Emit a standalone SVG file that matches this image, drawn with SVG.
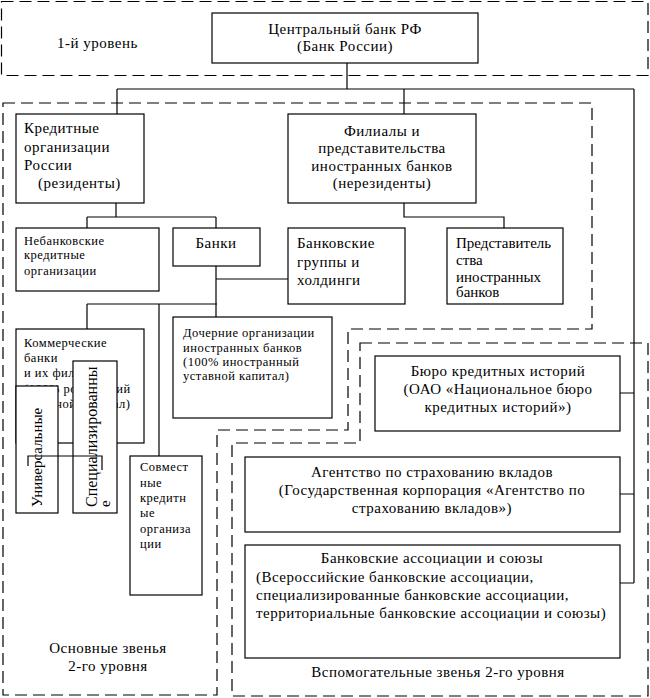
<svg xmlns="http://www.w3.org/2000/svg" width="650" height="698" viewBox="0 0 650 698" font-family="'Liberation Serif', 'DejaVu Serif', serif">
<style>
.bg{fill:#fff}
.zone{fill:none;stroke:#000;stroke-width:1.2;stroke-dasharray:12,6}
.box{fill:#fff;stroke:#000;stroke-width:1.2}
.ln{fill:none;stroke:#000;stroke-width:1.2}
text{font-family:'Liberation Serif','DejaVu Serif',serif;fill:#000}
.t{font-size:15px;letter-spacing:0.5px}
.s{font-size:12.5px;letter-spacing:0.5px}
.c{text-anchor:middle}
</style>
<rect class="bg" x="0" y="0" width="650" height="698"/>
<g id="zones">
<rect class="zone" x="1.5" y="1.5" width="646.5" height="74"/>
<path class="zone" d="M3,103 H592 V329 H348 V430 H217 V695 H3 Z"/>
<path class="zone" d="M360,343 H648 V696 H232 V443 H360 Z"/>
<text class="t" x="57" y="48">1-й уровень</text>
<text class="t c" x="108" y="653">Основные звенья</text>
<text class="t c" x="108" y="671">2-го уровня</text>
<text class="t c" x="438" y="677">Вспомогательные звенья 2-го уровня</text>
</g>
<g id="connectors">
<path class="ln" d="M347,63 V89 M117,89 H634 M117,89 V114 M404,89 V114 M634,89 V583"/>
<path class="ln" d="M116,203 V217 M87,217 H216 M87,217 V228 M216,217 V228"/>
<path class="ln" d="M216,266 V317 M216,279 H288 M87,304 H217 M87,304 V329 M159,304 V456"/>
<path class="ln" d="M404,203 V217 H504 V228"/>
<path class="ln" d="M620,393 H634 M620,494 H634 M620,583 H634"/>
</g>
<g id="cb">
<rect class="box" x="212" y="13" width="266" height="50"/>
<text class="t c" x="345" y="34">Центральный банк РФ</text>
<text class="t c" x="345" y="51">(Банк России)</text>
</g>
<g id="kredit">
<rect class="box" x="16" y="114" width="128" height="89"/>
<text class="t" x="24" y="133">Кредитные</text>
<text class="t" x="24" y="152">организации</text>
<text class="t" x="24" y="170">России</text>
<text class="t" x="38" y="188">(резиденты)</text>
</g>
<g id="filialy">
<rect class="box" x="288" y="114" width="188" height="89"/>
<text class="t c" x="382" y="136">Филиалы и</text>
<text class="t c" x="382" y="153">представительства</text>
<text class="t c" x="382" y="171">иностранных банков</text>
<text class="t c" x="382" y="188">(нерезиденты)</text>
</g>
<g id="nebank">
<rect class="box" x="16" y="228" width="143" height="63"/>
<text class="s" x="24" y="245">Небанковские</text>
<text class="s" x="24" y="259">кредитные</text>
<text class="s" x="24" y="275">организации</text>
</g>
<g id="banki">
<rect class="box" x="173" y="228" width="87" height="38"/>
<text class="t c" x="216" y="248">Банки</text>
</g>
<g id="gruppy">
<rect class="box" x="288" y="228" width="117" height="76"/>
<text class="t" x="297" y="248">Банковские</text>
<text class="t" x="297" y="267">группы и</text>
<text class="t" x="297" y="285">холдинги</text>
</g>
<g id="predst">
<rect class="box" x="447" y="228" width="116" height="76"/>
<text class="t" x="456" y="248" style="letter-spacing:0">Представитель</text>
<text class="t" x="456" y="265" style="letter-spacing:0">ства</text>
<text class="t" x="456" y="282" style="letter-spacing:0">иностранных</text>
<text class="t" x="456" y="297" style="letter-spacing:0">банков</text>
</g>
<g id="kommerch">
<rect class="box" x="16" y="329" width="128" height="114"/>
<text class="s" x="24" y="347">Коммерческие</text>
<text class="s" x="24" y="362">банки</text>
<text class="s" x="24" y="377">и их филиалы</text>
<text class="s" x="24" y="393">(100% российский</text>
<text class="s" x="24" y="408">уставной капитал)</text>
</g>
<g id="univ">
<rect class="box" x="16" y="386" width="42" height="127"/>
<text style="font-size:15px" transform="translate(42,507) rotate(-90)">Универсальные</text>
</g>
<g id="spec">
<rect class="box" x="73" y="361" width="44" height="152"/>
<text style="font-size:16px" transform="translate(97,507) rotate(-90)">Специализированны</text>
<text style="font-size:15px" transform="translate(110,507) rotate(-90)">е</text>
</g>
<g id="bracket">
<path class="ln" d="M28,466 V456 H102 V470"/>
</g>
<g id="dochernie">
<rect class="box" x="173" y="317" width="159" height="101"/>
<text class="s" x="183" y="337">Дочерние организации</text>
<text class="s" x="183" y="352">иностранных банков</text>
<text class="s" x="183" y="366">(100% иностранный</text>
<text class="s" x="183" y="380">уставной капитал)</text>
</g>
<g id="sovm">
<rect class="box" x="130" y="456" width="72" height="139"/>
<text class="s" x="140" y="471">Совмест</text>
<text class="s" x="140" y="487">ные</text>
<text class="s" x="140" y="502">кредитн</text>
<text class="s" x="140" y="517">ые</text>
<text class="s" x="140" y="533">организа</text>
<text class="s" x="140" y="548">ции</text>
</g>
<g id="buro">
<rect class="box" x="375" y="356" width="245" height="75"/>
<text class="t c" x="498" y="376">Бюро кредитных историй</text>
<text class="t c" x="498" y="394">(ОАО «Национальное бюро</text>
<text class="t c" x="498" y="412">кредитных историй»)</text>
</g>
<g id="agent">
<rect class="box" x="245" y="457" width="375" height="75"/>
<text class="t c" x="432" y="477">Агентство по страхованию вкладов</text>
<text class="t c" x="432" y="495">(Государственная корпорация «Агентство по</text>
<text class="t c" x="432" y="513">страхованию вкладов»)</text>
</g>
<g id="assoc">
<rect class="box" x="245" y="545" width="375" height="113"/>
<text class="t c" x="432" y="563">Банковские ассоциации и союзы</text>
<text class="t" x="256" y="582">(Всероссийские банковские ассоциации,</text>
<text class="t" x="256" y="600">специализированные банковские ассоциации,</text>
<text class="t" x="256" y="618">территориальные банковские ассоциации и союзы)</text>
</g>
</svg>
